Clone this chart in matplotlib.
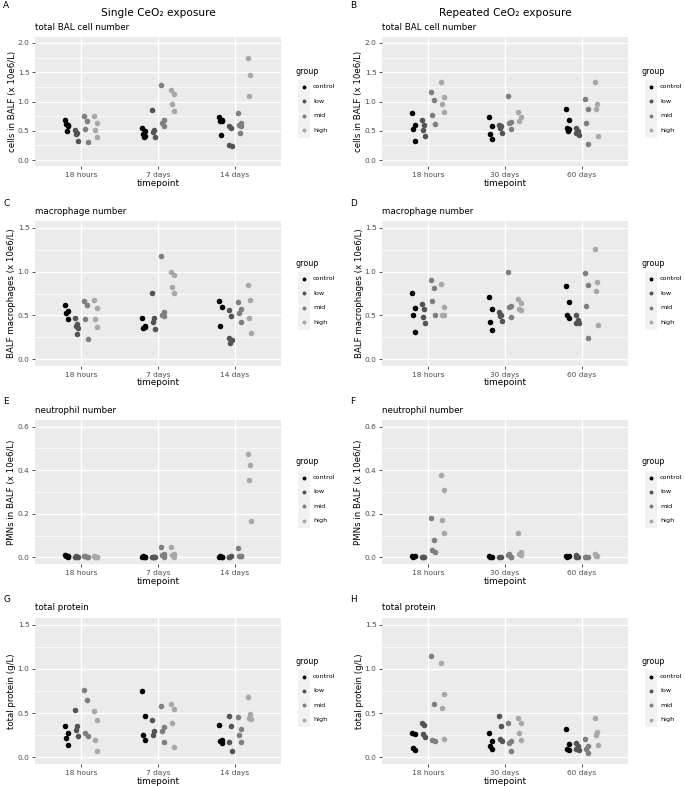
import numpy as np
import matplotlib
matplotlib.use("Agg")
from matplotlib import pyplot as plt

groups = ["control", "low", "mid", "high"]
colors = ["#000000", "#545454", "#7f7f7f", "#a8a8a8"]
single_times = ["18 hours", "7 days", "14 days"]
repeated_times = ["18 hours", "30 days", "60 days"]

# values per group: [timepoint1, timepoint2, timepoint3]
single_bal = {
    "control": [[0.69, 0.60, 0.61, 0.58, 0.50], [0.54, 0.50, 0.45, 0.42, 0.40], [0.73, 0.68, 0.66, 0.67, 0.43]],
    "low": [[0.51, 0.46, 0.44, 0.33], [0.85, 0.51, 0.48, 0.39], [0.59, 0.54, 0.25, 0.24]],
    "mid": [[0.76, 0.66, 0.53, 0.31], [1.28, 0.68, 0.64, 0.58], [0.80, 0.63, 0.60, 0.59, 0.47]],
    "high": [[0.75, 0.63, 0.51, 0.39], [1.20, 1.13, 0.95, 0.84], [1.75, 1.45, 1.10]],
}
repeated_bal = {
    "control": [[0.81, 0.60, 0.53, 0.32], [0.73, 0.58, 0.44, 0.36], [0.88, 0.68, 0.55, 0.53, 0.49]],
    "low": [[0.69, 0.60, 0.51, 0.41], [0.60, 0.59, 0.55, 0.47], [0.55, 0.50, 0.46, 0.43]],
    "mid": [[1.17, 1.02, 0.77, 0.62], [1.10, 0.65, 0.63, 0.53], [1.04, 0.88, 0.63, 0.27]],
    "high": [[1.33, 1.07, 0.95, 0.82], [0.82, 0.73, 0.67], [1.34, 0.96, 0.87, 0.42]],
}
single_mac = {
    "control": [[0.62, 0.55, 0.53, 0.46], [0.47, 0.38, 0.36, 0.37], [0.67, 0.60, 0.38]],
    "low": [[0.47, 0.40, 0.38, 0.36, 0.29], [0.76, 0.47, 0.43, 0.35], [0.56, 0.49, 0.24, 0.22, 0.19]],
    "mid": [[0.67, 0.62, 0.46, 0.23], [1.18, 0.54, 0.51, 0.49], [0.65, 0.57, 0.53, 0.43]],
    "high": [[0.68, 0.59, 0.46, 0.37], [1.00, 0.96, 0.82, 0.76], [0.85, 0.68, 0.47, 0.30]],
}
repeated_mac = {
    "control": [[0.76, 0.59, 0.50, 0.31], [0.71, 0.57, 0.43, 0.33], [0.84, 0.65, 0.51, 0.47]],
    "low": [[0.63, 0.57, 0.48, 0.41], [0.54, 0.51, 0.49, 0.44], [0.50, 0.45, 0.41, 0.42]],
    "mid": [[0.90, 0.81, 0.67, 0.51], [1.00, 0.61, 0.60, 0.48], [0.98, 0.85, 0.61, 0.24]],
    "high": [[0.86, 0.60, 0.51, 0.50], [0.69, 0.64, 0.57, 0.56], [1.26, 0.88, 0.78, 0.39]],
}
single_pmn = {
    "control": [[0.010, 0.008, 0.005, 0.004, 0.006], [0.004, 0.003, 0.005, 0.002], [0.003, 0.002, 0.005, 0.000]],
    "low": [[0.004, 0.003, 0.005, 0.002], [0.002, 0.004, 0.003, 0.001], [0.002, 0.006, 0.001]],
    "mid": [[0.005, 0.004, 0.006, 0.003], [0.048, 0.018, 0.012, 0.004], [0.045, 0.007, 0.006, 0.005]],
    "high": [[0.006, 0.004, 0.002, 0.003], [0.050, 0.015, 0.011, 0.002], [0.474, 0.423, 0.353, 0.168]],
}
repeated_pmn = {
    "control": [[0.005, 0.006, 0.002], [0.005, 0.003, 0.001], [0.008, 0.006, 0.003]],
    "low": [[0.002, 0.003, 0.000], [0.003, 0.002], [0.009, 0.003, 0.001]],
    "mid": [[0.182, 0.079, 0.032, 0.026], [0.011, 0.003, 0.017, 0.001], [0.003, 0.002, 0.001]],
    "high": [[0.379, 0.308, 0.170, 0.112], [0.114, 0.027, 0.018, 0.012], [0.015, 0.008, 0.005]],
}
single_prot = {
    "control": [[0.35, 0.28, 0.22, 0.14], [0.75, 0.47, 0.25, 0.20], [0.37, 0.20, 0.19, 0.16]],
    "low": [[0.53, 0.35, 0.31, 0.24], [0.42, 0.30, 0.25], [0.47, 0.35, 0.17, 0.07]],
    "mid": [[0.76, 0.65, 0.27, 0.24], [0.58, 0.34, 0.30, 0.17], [0.46, 0.32, 0.25, 0.17]],
    "high": [[0.52, 0.42, 0.20, 0.07], [0.60, 0.55, 0.39, 0.12], [0.68, 0.49, 0.45, 0.43]],
}
repeated_prot = {
    "control": [[0.28, 0.26, 0.11, 0.08], [0.27, 0.19, 0.13, 0.10], [0.32, 0.15, 0.10, 0.08]],
    "low": [[0.39, 0.37, 0.26, 0.23], [0.47, 0.35, 0.21, 0.19], [0.16, 0.13, 0.09, 0.08]],
    "mid": [[1.15, 0.60, 0.20, 0.19], [0.39, 0.18, 0.16, 0.07], [0.21, 0.13, 0.10, 0.05]],
    "high": [[1.07, 0.72, 0.56, 0.21], [0.44, 0.39, 0.27, 0.20], [0.45, 0.29, 0.25, 0.14]],
}

W, H = 685, 786
fig = plt.figure(figsize=(W / 100, H / 100), dpi=100)
plt.rcParams["font.family"] = "DejaVu Sans"

dodge = [-0.1875, -0.0625, 0.0625, 0.1875]
jit = [-0.02, 0.015, -0.008, 0.022, 0.004]


def ftext(x, y, s, **kw):
    fig.text(x / W, 1 - y / H, s, **kw)


def panel(x0, x1, y0, y1, data, times, top, step, sub, ylab, letter):
    ax = fig.add_axes([x0 / W, 1 - y1 / H, (x1 - x0) / W, (y1 - y0) / H])
    ax.set_facecolor("#EBEBEB")
    for s in ax.spines.values():
        s.set_visible(False)
    major = np.arange(0, top + step / 2, step)
    ax.set_yticks(major)
    ax.set_yticks(major[:-1] + step / 2, minor=True)
    ax.set_yticklabels(["%.1f" % v for v in major])
    ax.set_xticks([1, 2, 3])
    ax.set_xticklabels(times)
    ax.set_xlim(0.4, 3.6)
    ax.set_ylim(-0.05 * top, 1.05 * top)
    ax.grid(which="major", color="white", lw=1.0)
    ax.grid(which="minor", axis="y", color="white", lw=0.5)
    ax.set_axisbelow(True)
    ax.tick_params(which="major", length=2.5, width=0.6, color="#333333",
                   labelsize=5.3, labelcolor="#4D4D4D", pad=1.5)
    ax.tick_params(which="minor", length=0)
    for gi, g in enumerate(groups):
        for ti, vals in enumerate(data[g]):
            xs = [ti + 1 + dodge[gi] + jit[k % len(jit)] for k in range(len(vals))]
            ax.scatter(xs, vals, s=16, color=colors[gi], linewidths=0, zorder=3)

    yc = (y0 + y1) / 2
    ftext((x0 + x1) / 2, y1 + 17, "timepoint", fontsize=6.4, ha="center", va="center")
    ftext(x0 - 23, yc, ylab, fontsize=6.2, ha="center", va="center", rotation=90)
    ftext(x0, y0 - 10, sub, fontsize=6.3, ha="left", va="center")
    ftext(x0 - 32, y0 - 32 if letter in "AB" else y0 - 18, letter, fontsize=6.4,
          ha="left", va="center")

    # legend
    lx = x1 + 14
    ftext(lx, yc - 30, "group", fontsize=5.8, ha="left", va="center")
    lax = fig.add_axes([(lx + 3) / W, 1 - (yc + 36) / H, 12 / W, 57.5 / H])
    lax.set_facecolor("#F2F2F2")
    for s in lax.spines.values():
        s.set_visible(False)
    lax.set_xticks([])
    lax.set_yticks([])
    lax.set_xlim(0, 1)
    lax.set_ylim(yc + 36, yc - 21.5)
    for gi, g in enumerate(groups):
        yy = yc - 14.5 + gi * 14.4
        lax.scatter([0.5], [yy], s=8, color=colors[gi], linewidths=0)
        ftext(lx + 18, yy, g, fontsize=4.6, ha="left", va="center")
    return ax


rows = [(37, 166), (221, 366), (420, 564), (618, 764)]
cols = [(35, 281), (382, 628)]

panel(*cols[0], *rows[0], single_bal, single_times, 2.0, 0.5,
      "total BAL cell number", "cells in BALF (x 10e6/L)", "A")
panel(*cols[1], *rows[0], repeated_bal, repeated_times, 2.0, 0.5,
      "total BAL cell number", "cells in BALF (x 10e6/L)", "B")
panel(*cols[0], *rows[1], single_mac, single_times, 1.5, 0.5,
      "macrophage number", "BALF macrophages (x 10e6/L)", "C")
panel(*cols[1], *rows[1], repeated_mac, repeated_times, 1.5, 0.5,
      "macrophage number", "BALF macrophages (x 10e6/L)", "D")
panel(*cols[0], *rows[2], single_pmn, single_times, 0.6, 0.2,
      "neutrophil number", "PMNs in BALF (x 10e6/L)", "E")
panel(*cols[1], *rows[2], repeated_pmn, repeated_times, 0.6, 0.2,
      "neutrophil number", "PMNs in BALF (x 10e6/L)", "F")
panel(*cols[0], *rows[3], single_prot, single_times, 1.5, 0.5,
      "total protein", "total protein (g/L)", "G")
panel(*cols[1], *rows[3], repeated_prot, repeated_times, 1.5, 0.5,
      "total protein", "total protein (g/L)", "H")

ftext(158, 13.5, "Single CeO\u2082 exposure", fontsize=7.6, ha="center", va="center")
ftext(505, 13.5, "Repeated CeO\u2082 exposure", fontsize=7.6, ha="center", va="center")

fig.savefig("out.png", dpi=100)
